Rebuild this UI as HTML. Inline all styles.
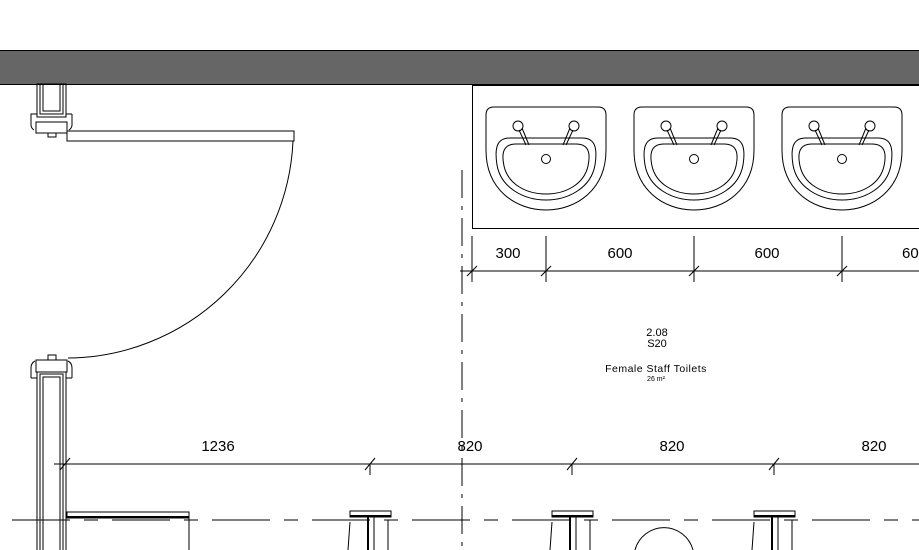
<!DOCTYPE html>
<html><head><style>html,body{margin:0;background:#fff;width:919px;height:550px;overflow:hidden}svg{display:block;overflow:hidden}text{font-family:"Liberation Sans",sans-serif;fill:#000}</style></head>
<body>
<svg width="919" height="550" viewBox="0 0 919 550" xmlns="http://www.w3.org/2000/svg" fill="none" stroke="#000" stroke-width="1">
<rect x="0" y="50" width="919" height="34" fill="#666" stroke="none"/>
<path d="M0 50.5 H919 M0 84.5 H919"/>
<rect x="37" y="84" width="29" height="33" />
<rect x="40" y="84" width="23" height="30" />
<rect x="43" y="84" width="17" height="27" />
<path d="M31 125 V114 H37 M72 114 H66 M72 114 V125 Q72 128 69 130 M31 125 Q31 128 34 130"/>
<rect x="36" y="122" width="31" height="11"/>
<rect x="48" y="133" width="8" height="4"/>
<rect x="67" y="131" width="227" height="10"/>
<path d="M293 141 A227 227 0 0 1 68 358"/>
<rect x="48" y="355" width="8" height="5"/>
<rect x="36" y="360" width="31" height="12"/>
<path d="M31 378 V368 Q31 363 35 361 M72 378 V368 Q72 363 68 361 M31 378 H37 M72 378 H66"/>
<path d="M37 550 V372 H66 V550 M40 550 V374 H63 V550 M43 550 V377 H60 V550"/>
<rect x="67" y="512" width="122" height="6"/>
<line x1="67" y1="517" x2="189" y2="517" stroke-width="2"/>
<line x1="189" y1="518" x2="189" y2="550"/>
<path d="M919 85.5 H472.5 V228.5 H919"/>
<g id="sinks">
<g transform="translate(546,0)">
<path d="M-52 107 H52 Q60 107 60 115 V150 C60 190 30 210 0 210 C-30 210 -60 190 -60 150 V115 Q-60 107 -52 107Z"/>
<path d="M-36 138 H36 C48 138 52 146 49 165 C45 188 22 200 0 200 C-22 200 -45 188 -49 165 C-52 146 -48 138 -36 138Z"/>
<path d="M-30 144 H30 C42 144 45 152 42 166 C38 184 20 194 0 194 C-20 194 -38 184 -42 166 C-45 152 -42 144 -30 144Z"/>
<circle cx="-28" cy="126" r="5"/><circle cx="28" cy="126" r="5"/><circle cx="0" cy="159" r="4.5"/>
<path d="M-27 130 L-20 145 M-24 128 L-17 145 M27 130 L20 145 M24 128 L17 145"/>
</g>
</g>
<use href="#sinks" x="148"/><use href="#sinks" x="296"/>
<line x1="460" y1="271" x2="919" y2="271"/>
<path d="M472 236 V282 M546 236 V282 M694 236 V282 M842 236 V282"/>
<path d="M467 276 L477 266 M541 276 L551 266 M689 276 L699 266 M837 276 L847 266"/>
<g stroke="none" font-size="15" text-anchor="middle">
<text x="508" y="258">300</text><text x="620" y="258">600</text><text x="767" y="258">600</text><text x="902" y="258" text-anchor="start">60</text>
<text x="218" y="451">1236</text><text x="470" y="451">820</text><text x="672" y="451">820</text><text x="874" y="451">820</text>
<text x="657" y="336" font-size="11">2.08</text><text x="657" y="347" font-size="11">S20</text>
<text x="656" y="372" font-size="10.5" letter-spacing="0.5">Female Staff Toilets</text><text x="656" y="381" font-size="7">26 m²</text>
</g>
<line x1="462" y1="170" x2="462" y2="550" stroke-dasharray="28 8 4 8"/>
<line x1="54" y1="464" x2="919" y2="464"/>
<path d="M60 470 L70 458 M365 470 L375 458 M567 470 L577 458 M769 470 L779 458 M370 464 V475 M572 464 V475 M774 464 V475"/>
<line x1="12" y1="520" x2="919" y2="520" stroke-dasharray="58 14 14 14"/>
<g id="tee">
<rect x="350" y="511" width="41" height="6"/>
<line x1="350" y1="516" x2="391" y2="516" stroke-width="2"/>
<line x1="368" y1="517" x2="368" y2="550" stroke-width="2"/>
<line x1="374" y1="517" x2="374" y2="550"/>
<line x1="388" y1="520" x2="388" y2="550"/>
<line x1="350" y1="522" x2="348" y2="550"/>
</g>
<use href="#tee" x="202"/><use href="#tee" x="404"/>
<path d="M635 550 A30 30 0 0 1 693 550"/>
</svg>
</body></html>
